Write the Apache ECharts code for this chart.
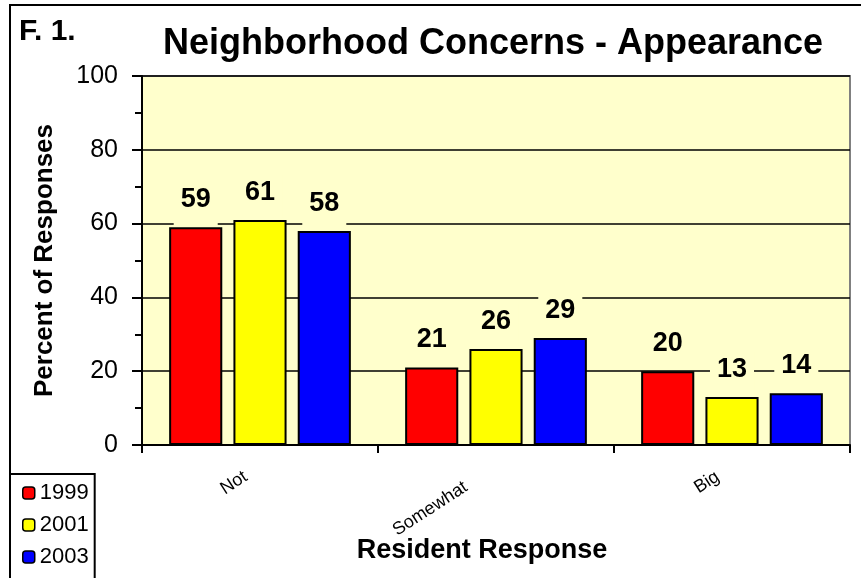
<!DOCTYPE html>
<html>
<head>
<meta charset="utf-8">
<script src="https://cdn.jsdelivr.net/npm/echarts@6/dist/echarts.min.js"></script>
<style>
html,body{margin:0;padding:0;background:#fff;}
#chart{width:861px;height:578px;}
</style>
</head>
<body>
<div id="chart"></div>
<script>
const categories = ['Not', 'Somewhat', 'Big'];
const seriesNames = ['1999', '2001', '2003'];
const values1999 = [59, 21, 20];
const values2001 = [61, 26, 13];
const values2003 = [58, 29, 14];
const yTicks = [0, 20, 40, 60, 80, 100];
const colors = ['#FF0000', '#FFFF00', '#0000FF'];

const chart = echarts.init(document.getElementById('chart'), null, {renderer: 'canvas'});
const FONT = 'Liberation Sans, Arial, sans-serif';
const PLOT_BG = '#FFFFCC';
const dataSets = [values1999, values2001, values2003];

// per-label nudges of the rotated category labels (padding in label frame)
const catLabelPadding = [[0, 17, 0, 0], [0, 36, 8, 0], [0, 17, 0, 0]];
const catData = categories.map((c, i) => ({value: c, textStyle: {padding: catLabelPadding[i]}}));

const series = dataSets.map((vals, i) => ({
  name: seriesNames[i],
  type: 'bar',
  data: vals,
  barGap: '21%',
  barCategoryGap: '23%',
  itemStyle: {color: colors[i], borderColor: '#000', borderWidth: 2},
  label: {
    show: true,
    position: 'top',
    distance: 2,
    fontFamily: FONT,
    fontWeight: 'bold',
    fontSize: 27,
    color: '#000',
    backgroundColor: PLOT_BG,
    padding: [4, 7, 12, 7]
  }
}));

chart.setOption({
  animation: false,
  backgroundColor: '#fff',
  textStyle: {fontFamily: FONT},
  graphic: [{
    type: 'rect',
    shape: {x: 10, y: 5, width: 900, height: 620},
    style: {fill: 'none', stroke: '#000', lineWidth: 2},
    silent: true, z: 100
  }],
  title: [
    {text: 'F. 1.', left: 14, top: 12,
     textStyle: {fontFamily: FONT, fontWeight: 'bold', fontSize: 30, color: '#000'}},
    {text: 'Neighborhood Concerns - Appearance', left: 488, top: 21, textAlign: 'center',
     textStyle: {fontFamily: FONT, fontWeight: 'bold', fontSize: 36, color: '#000'}}
  ],
  legend: {
    orient: 'vertical',
    left: 10, top: 474, height: 160,
    padding: [8, 6, 30, 12],
    itemGap: 10,
    itemWidth: 12, itemHeight: 12,
    borderColor: '#000', borderWidth: 2,
    backgroundColor: '#fff',
    itemStyle: {borderColor: '#000', borderWidth: 1.5},
    textStyle: {fontFamily: FONT, fontSize: 22, color: '#000'},
    data: seriesNames
  },
  grid: {
    left: 142, right: 11, top: 76, bottom: 133,
    show: true, backgroundColor: PLOT_BG, borderColor: '#808080', borderWidth: 2
  },
  xAxis: {
    type: 'category',
    data: catData,
    name: 'Resident Response',
    nameLocation: 'middle',
    nameGap: 92,
    nameMoveOverlap: false,
    nameTextStyle: {fontFamily: FONT, fontWeight: 'bold', fontSize: 27, color: '#000', padding: [0, 28, 0, 0]},
    axisLine: {lineStyle: {color: '#000', width: 2}},
    axisTick: {show: true, length: 8, lineStyle: {color: '#000', width: 2}},
    axisLabel: {rotate: 33, margin: 21, interval: 0, fontFamily: FONT, fontSize: 18, color: '#000'},
    splitLine: {show: false}
  },
  yAxis: {
    type: 'value',
    min: yTicks[0], max: yTicks[yTicks.length - 1], interval: 20,
    name: 'Percent of Responses',
    nameLocation: 'middle',
    nameGap: 84,
    nameMoveOverlap: false,
    nameTextStyle: {fontFamily: FONT, fontWeight: 'bold', fontSize: 26, color: '#000'},
    axisLine: {show: true, lineStyle: {color: '#000', width: 2}},
    axisTick: {show: true, length: 10, lineStyle: {color: '#000', width: 2}},
    minorTick: {show: true, splitNumber: 2, length: 7, lineStyle: {color: '#000', width: 2}},
    axisLabel: {margin: 24, fontFamily: FONT, fontSize: 25, color: '#000'},
    splitLine: {show: true, lineStyle: {color: '#000', width: 1.5}}
  },
  series: series
});
</script>
</body>
</html>
